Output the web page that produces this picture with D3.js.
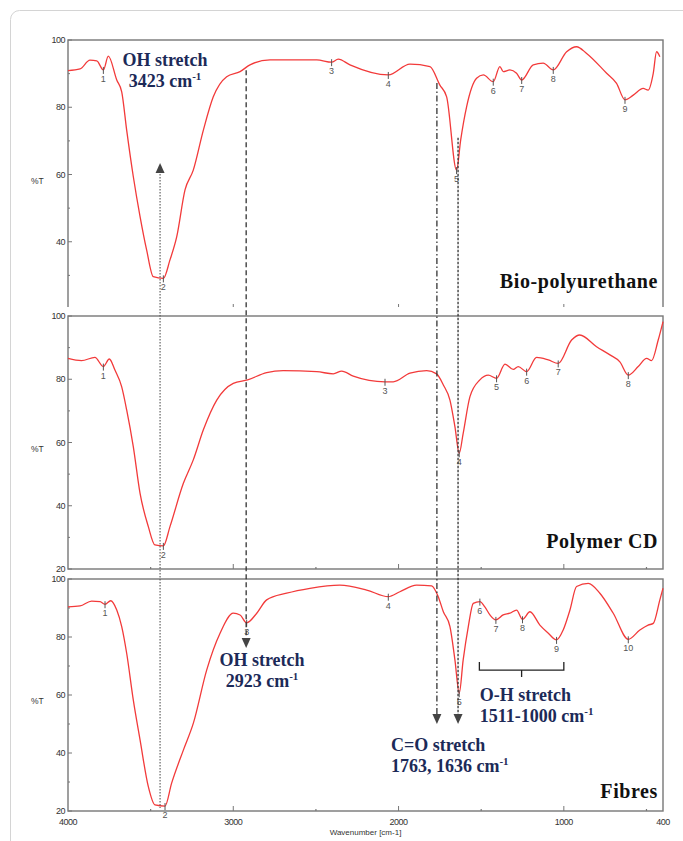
<!DOCTYPE html>
<html><head><meta charset="utf-8">
<script src="https://cdn.jsdelivr.net/npm/d3@7"></script>
<style>body{margin:0;background:#fff}svg{display:block}</style>
</head><body>
<script>
// ---------- data (wavenumber cm-1, %T) ----------
const bioPU = [[4000,90.9],[3927,91.4],[3867,94.0],[3826,93.8],[3786,91.1],[3756,95.2],[3705,88.1],[3675,84.6],[3645,73.2],[3605,59.4],[3564,47.5],[3524,37.5],[3484,29.6],[3423,29.1],[3383,34.6],[3342,41.5],[3292,55.4],[3242,61.3],[3181,73.2],[3121,83.1],[3040,89.1],[2959,90.6],[2899,92.6],[2778,94.1],[2495,94.1],[2405,93.4],[2365,94.3],[2294,92.6],[2062,89.6],[1931,92.8],[1810,92.1],[1750,86.6],[1709,83.1],[1649,61.3],[1624,70.3],[1588,80.2],[1528,88.6],[1487,89.6],[1427,87.6],[1387,92.1],[1367,90.6],[1326,91.1],[1286,90.1],[1255,88.1],[1185,92.6],[1125,93.1],[1064,91.1],[983,96.5],[923,98.0],[862,96.0],[741,90.1],[681,87.1],[630,82.2],[580,83.6],[520,85.6],[490,85.1],[459,90.1],[439,96.5],[419,95.0]];
const polymerCD = [[4000,86.6],[3918,85.9],[3837,86.9],[3786,84.0],[3750,86.4],[3716,82.9],[3675,77.6],[3645,70.3],[3605,58.7],[3564,43.9],[3514,33.4],[3474,27.6],[3423,27.3],[3383,33.4],[3302,47.1],[3242,54.5],[3181,64.0],[3100,73.4],[3000,78.7],[2913,79.8],[2798,82.1],[2698,82.7],[2495,82.4],[2395,81.7],[2344,82.6],[2274,81.0],[2082,79.2],[2032,79.2],[1931,81.9],[1830,82.7],[1770,81.7],[1729,78.2],[1689,73.4],[1659,65.0],[1633,56.6],[1609,62.9],[1568,74.5],[1508,79.8],[1457,81.3],[1407,80.3],[1356,84.8],[1306,83.1],[1276,84.0],[1225,82.4],[1165,86.9],[1094,86.1],[1034,85.0],[953,92.4],[903,94.0],[802,90.3],[721,87.7],[661,85.5],[610,81.3],[550,84.0],[499,86.6],[469,85.9],[429,92.4],[400,98.2]];
const fibres = [[4000,90.4],[3927,90.7],[3857,92.4],[3806,92.2],[3776,91.3],[3742,92.5],[3705,89.3],[3675,83.6],[3645,74.4],[3605,58.3],[3564,44.5],[3514,28.4],[3474,22.1],[3413,21.7],[3373,29.6],[3302,41.0],[3242,50.2],[3161,68.6],[3080,81.3],[3000,88.2],[2959,87.6],[2919,84.9],[2858,88.2],[2798,92.8],[2677,95.1],[2536,96.8],[2355,97.9],[2193,96.2],[2062,93.9],[1992,95.6],[1891,97.9],[1800,97.6],[1760,93.9],[1729,88.7],[1689,83.6],[1659,72.1],[1633,60.6],[1609,72.1],[1578,83.6],[1548,91.6],[1508,92.2],[1478,90.4],[1447,87.6],[1411,85.9],[1367,87.6],[1326,88.2],[1286,89.3],[1250,86.1],[1205,88.7],[1145,84.1],[1094,81.3],[1044,79.0],[1004,82.4],[963,89.3],[923,97.4],[852,98.5],[782,95.1],[701,88.2],[610,79.2],[540,82.4],[490,84.1],[459,84.7],[419,92.8],[400,96.8]];

const bioPeaks = [[3786,91.1,"1"],[3423,29.1,"2"],[2405,93.4,"3"],[2062,89.6,"4"],[1649,61.3,"5"],[1427,87.6,"6"],[1255,88.1,"7"],[1064,91.1,"8"],[630,82.2,"9"]];
const cdPeaks = [[3786,84.0,"1"],[3423,27.3,"2"],[2082,79.2,"3"],[1633,56.6,"4"],[1407,80.3,"5"],[1225,82.4,"6"],[1034,85.0,"7"],[610,81.3,"8"]];
const fibPeaks = [[3776,91.3,"1"],[3413,21.7,"2"],[2919,84.9,"3"],[2062,93.9,"4"],[1633,60.6,"5"],[1508,92.2,"6"],[1411,85.9,"7"],[1250,86.1,"8"],[1044,79.0,"9"],[610,79.2,"10"]];

const panelNames = ["Bio-polyurethane","Polymer CD","Fibres"];
const yTicks = [100,80,60,40,20];
const yMinor = [90,70,50,30];
const xMajor = [3000,2000,1000];
const xMinor = [3500,2500,1500,500];
const xLabels = [4000,3000,2000,1000,400];
const xTitle = "Wavenumber [cm-1]";
const yTitle = "%T";

// annotation arrows: wavenumber, start [panel,T], end [panel,T]
const arrowW = [3443, 2922, 1768, 1640];
const arrowFrom = [[0,63.4],[0,91],[0,87.2],[0,70.9]];
const arrowTo = [[2,21],[2,76.2],[2,50],[2,50]];
const arrowHead = ["start","end","end","end"];
const arrowDash = ["1.4,1.6","5,3","6,2.5,1.5,2.5","2.5,1.5"];

// annotation texts
const noteText = [["OH stretch","3423 cm"],["OH stretch","2923 cm"],["C=O stretch","1763, 1636 cm"],["O-H stretch","1511-1000 cm"]];
const notePanel = [0,2,2,2];
const noteW = [3413,2826,2046,1508];
const noteT = [92.3,70.0,40.7,57.9];
const noteAnchor = ["middle","middle","start","start"];
const bracketW = [1511,1000];
const bracketT = [71.4,68.6,66.2];

// ---------- layout ----------
const W = 683, H = 841;
const svg = d3.select("body").append("svg").attr("width",W).attr("height",H);
svg.append("rect").attr("width",W).attr("height",H).attr("fill","#fff");
svg.append("rect").attr("x",10.5).attr("y",10.5).attr("width",700).attr("height",900)
   .attr("rx",9).attr("fill","none").attr("stroke","#d4d4d4").attr("stroke-width",1);

const x = d3.scaleLinear().domain([4000,400]).range([68,663]);
const panels = [
  {data:bioPU, peaks:bioPeaks, top:40, bottom:309, clip:307, ticks:[100,80,60,40]},
  {data:polymerCD, peaks:cdPeaks, top:316, bottom:569, clip:574, ticks:yTicks},
  {data:fibres, peaks:fibPeaks, top:579, bottom:811, clip:841, ticks:yTicks}
];
panels.forEach(p => p.y = d3.scaleLinear().domain([20,100]).range([p.bottom,p.top]));

const defs = svg.append("defs");
const frameC = "#777", labC = "#333";

panels.forEach((p,i) => {
  defs.append("clipPath").attr("id","clip"+i).append("rect")
    .attr("x",0).attr("y",p.top-12).attr("width",W).attr("height",p.clip-(p.top-12));
  const g = svg.append("g").attr("clip-path",`url(#clip${i})`);
  // frame
  g.append("rect").attr("x",x(4000)).attr("y",p.top).attr("width",x(400)-x(4000))
    .attr("height",p.bottom-p.top).attr("fill","none").attr("stroke",frameC).attr("stroke-width",1.4);
  // y ticks
  yTicks.forEach(t => {
    g.append("line").attr("x1",x(4000)).attr("x2",x(4000)+4).attr("y1",p.y(t)).attr("y2",p.y(t))
      .attr("stroke",frameC).attr("stroke-width",1);
  });
  p.ticks.forEach(t => {
    g.append("text").attr("x",x(4000)-3).attr("y",p.y(t)).attr("dy","0.35em")
      .attr("text-anchor","end").attr("font-family","Liberation Sans, Arial").attr("font-size",9)
      .attr("fill",labC).attr("letter-spacing",-0.5).text(t);
  });
  yMinor.forEach(t => {
    g.append("line").attr("x1",x(4000)).attr("x2",x(4000)+2).attr("y1",p.y(t)).attr("y2",p.y(t))
      .attr("stroke",frameC).attr("stroke-width",1);
  });
  g.append("text").attr("x",31).attr("y",p.y(58)).attr("dy","0.35em")
    .attr("font-family","Liberation Sans, Arial").attr("font-size",8.5).attr("fill",labC).text(yTitle);
  // x ticks
  xMajor.forEach(w => g.append("line").attr("x1",x(w)).attr("x2",x(w)).attr("y1",p.bottom).attr("y2",p.bottom-5)
    .attr("stroke",frameC).attr("stroke-width",1));
  xMinor.forEach(w => g.append("line").attr("x1",x(w)).attr("x2",x(w)).attr("y1",p.bottom).attr("y2",p.bottom-2)
    .attr("stroke",frameC).attr("stroke-width",1.2));
  // curve
  const line = d3.line().x(d => x(d[0])).y(d => p.y(d[1])).curve(d3.curveMonotoneX);
  g.append("path").datum(p.data).attr("d",line).attr("fill","none")
    .attr("stroke","#f23a3a").attr("stroke-width",1.3);
  // peaks
  p.peaks.forEach(pk => {
    g.append("line").attr("x1",x(pk[0])).attr("x2",x(pk[0])).attr("y1",p.y(pk[1])-3).attr("y2",p.y(pk[1])+4)
      .attr("stroke","#555").attr("stroke-width",1);
    g.append("text").attr("x",x(pk[0])).attr("y",p.y(pk[1])+12).attr("text-anchor","middle")
      .attr("font-family","Liberation Sans, Arial").attr("font-size",9).attr("fill","#555").text(pk[2]);
  });
  // panel name
  g.append("text").attr("x",x(400)-5).attr("y",p.bottom - (i===2?13:21)).attr("text-anchor","end")
    .attr("font-family","Liberation Serif, Times New Roman, serif").attr("font-weight","bold")
    .attr("font-size",20).attr("letter-spacing",0.6).attr("fill","#111").text(panelNames[i]);
});

// bottom x labels
const pb = panels[2];
xLabels.forEach(w => svg.append("text").attr("x",x(w)).attr("y",pb.bottom+14).attr("text-anchor","middle")
  .attr("font-family","Liberation Sans, Arial").attr("font-size",9).attr("letter-spacing",-0.5)
  .attr("fill",labC).text(w));
svg.append("text").attr("x",x(2200)).attr("y",pb.bottom+24).attr("text-anchor","middle")
  .attr("font-family","Liberation Sans, Arial").attr("font-size",8).attr("fill",labC).text(xTitle);

// arrows
arrowW.forEach((w,i) => {
  const xa = x(w);
  const y1 = panels[arrowFrom[i][0]].y(arrowFrom[i][1]);
  const y2 = panels[arrowTo[i][0]].y(arrowTo[i][1]);
  const col = i===0 ? "#555" : "#333";
  let ly1 = y1, ly2 = y2;
  if (arrowHead[i]==="start") ly1 = y1+8; else ly2 = y2-8;
  svg.append("line").attr("x1",xa).attr("x2",xa).attr("y1",ly1).attr("y2",ly2)
    .attr("stroke",col).attr("stroke-width",i===0?1.1:1.3).attr("stroke-dasharray",arrowDash[i]);
  if (arrowHead[i]==="start") {
    svg.append("path").attr("d",`M${xa},${y1} L${xa-4.5},${y1+10} L${xa+4.5},${y1+10} Z`).attr("fill","#444");
  } else {
    svg.append("path").attr("d",`M${xa},${y2} L${xa-4.5},${y2-10} L${xa+4.5},${y2-10} Z`).attr("fill","#444");
  }
});

// annotation texts
noteText.forEach((lines,i) => {
  const p = panels[notePanel[i]];
  const t = svg.append("text").attr("x",x(noteW[i])).attr("y",p.y(noteT[i]))
    .attr("text-anchor",noteAnchor[i]).attr("font-family","Liberation Serif, Times New Roman, serif")
    .attr("font-weight","bold").attr("font-size",18).attr("fill","#1c2a58");
  t.append("tspan").attr("x",x(noteW[i])).text(lines[0]);
  t.append("tspan").attr("x",x(noteW[i])).attr("dy",21).text(lines[1]);
  t.append("tspan").attr("dy",-7).attr("font-size",11).text("-1");
});

// bracket
const bx1 = x(bracketW[0]), bx2 = x(bracketW[1]);
const by0 = pb.y(bracketT[0]), by1 = pb.y(bracketT[1]), by2 = pb.y(bracketT[2]);
svg.append("path").attr("d",`M${bx1},${by0} L${bx1},${by1} L${bx2},${by1} L${bx2},${by0} M${(bx1+bx2)/2},${by1} L${(bx1+bx2)/2},${by2}`)
  .attr("fill","none").attr("stroke","#222").attr("stroke-width",1.3);
</script>
</body></html>
